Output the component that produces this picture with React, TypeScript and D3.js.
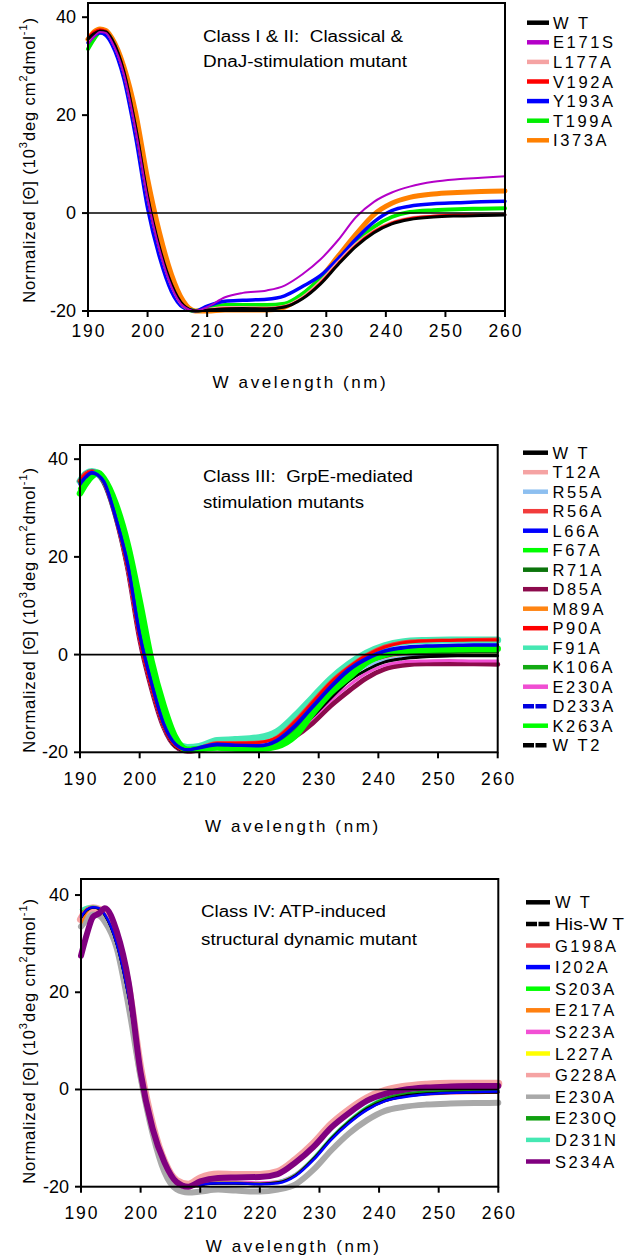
import React from 'react';
import * as d3 from 'd3';

// Wavelength grid (nm) shared by every spectrum
const WAVELENGTHS = [190, 191, 192, 193, 194, 196, 198, 200, 202, 204, 206, 208, 210, 213, 216, 220, 223, 226, 229, 232, 235, 238, 241, 244, 248, 252, 256, 260];
const X_TICKS = [190, 200, 210, 220, 230, 240, 250, 260];
const Y_TICKS = [-20, 0, 20, 40];

// ---- Class I & II ----
const C1_NAMES = ['W T', 'E171S', 'L177A', 'V192A', 'Y193A', 'T199A', 'I373A'];
const C1_WT = [35.5, 36.6, 37.2, 37.0, 35.5, 29, 17.5, 3.5, -7, -14.5, -18.8, -20, -19.8, -19.6, -19.5, -19.6, -19.2, -17.5, -14.5, -10.5, -6.8, -4, -2.2, -1.3, -0.8, -0.6, -0.5, -0.4];
const C1_E171S = [34.5, 36, 37, 36.8, 35, 28.5, 17, 3, -7.5, -15, -19, -20, -19.2, -17.2, -16.3, -15.8, -14.8, -12.5, -9.5, -5.5, -0.8, 2.3, 4.2, 5.4, 6.4, 6.9, 7.2, 7.5];
const C1_L177A = [35, 36.5, 37.3, 37, 35.3, 28.8, 17.2, 3.2, -7.2, -14.8, -19, -20, -19.7, -19.3, -19.3, -19.4, -19, -17.2, -14, -10, -6.3, -3.6, -1.9, -1.0, -0.6, -0.4, -0.3, -0.3];
const C1_V192A = [35.8, 37, 37.5, 37.2, 35.6, 29.2, 17.8, 3.6, -7, -14.5, -18.8, -20, -19.8, -19.5, -19.5, -19.5, -19.1, -17.4, -14.3, -10.3, -6.6, -3.8, -2, -1.1, -0.6, -0.4, -0.4, -0.3];
const C1_Y193A = [34.8, 36.2, 36.8, 36.3, 34.5, 27.5, 15.5, 1, -9, -16, -19.3, -20, -19, -18, -17.8, -17.6, -16.9, -15, -12.8, -9.3, -5.3, -1.8, 0.5, 1.4, 1.9, 2.1, 2.3, 2.4];
const C1_T199A = [33.5, 35.5, 36.8, 36.8, 35.3, 28.5, 17, 2.5, -8, -15.3, -19.2, -20, -19.5, -18.8, -18.8, -18.8, -18.5, -16.5, -13.4, -9.7, -6, -2.8, -0.8, 0.2, 0.6, 0.8, 0.9, 1.0];
const C1_I373A = [35.5, 37, 37.6, 37.3, 35.8, 30, 20.5, 7, -4, -12.5, -18, -20, -20, -19.8, -19.8, -19.8, -19.2, -16.8, -13.3, -8.8, -4.3, -0.3, 2, 3.2, 3.9, 4.2, 4.4, 4.5];

// ---- Class III ----
const C3_NAMES = ['W T', 'T12A', 'R55A', 'R56A', 'L66A', 'F67A', 'R71A', 'D85A', 'M89A', 'P90A', 'F91A', 'K106A', 'E230A', 'D233A', 'K263A', 'W T2'];
const C3_WT = [35.4, 36.9, 37.3, 36.9, 35.3, 28.2, 17.6, 3.3, -6.8, -14.7, -18.8, -19.7, -19.2, -18.7, -18.9, -19, -18.4, -16, -12.6, -8.9, -5.4, -3.2, -1.6, -0.9, -0.5, -0.3, -0.2, -0.2];
const C3_T12A = [35.5, 37, 37.3, 36.8, 35.2, 28.2, 17.7, 3.4, -6.7, -14.6, -18.7, -19.7, -19.2, -18.7, -18.8, -18.9, -18.1, -15.5, -11.7, -7.7, -4.4, -2, -0.7, -0.1, 0.2, 0.3, 0.3, 0.3];
const C3_R55A = [35.2, 36.8, 37.2, 36.8, 35.2, 28.1, 17.5, 3.3, -6.8, -14.7, -18.8, -19.7, -19.2, -18.7, -18.8, -18.9, -18.2, -15.7, -12, -8.1, -4.8, -2.4, -1.2, -0.6, -0.3, -0.2, -0.2, -0.2];
const C3_R56A = [35.8, 37.2, 37.6, 37, 35.4, 28.3, 18, 3.5, -6.5, -14.5, -18.6, -19.6, -19, -18, -18, -17.9, -16.8, -13.5, -9.5, -5.5, -2.5, 0, 1.7, 2.6, 2.9, 3.0, 3.1, 3.2];
const C3_L66A = [35, 36.5, 37.3, 36.8, 35.5, 28, 18.6, 4.3, -5.8, -14, -18.3, -19.5, -19, -18.3, -18.5, -18.6, -17.5, -14.5, -10.5, -6.5, -3, -0.7, 0.8, 1.5, 1.8, 1.9, 2.0, 2.0];
const C3_F67A = [34, 35.8, 37, 37.2, 35.8, 29.5, 20, 7, -4, -12.5, -17.5, -19.4, -19.2, -18.7, -18.9, -19, -18.4, -16, -12, -7.8, -4.3, -1.5, 0.1, 0.8, 1.1, 1.2, 1.2, 1.3];
const C3_R71A = [35.5, 37, 37.4, 37, 35.4, 28.3, 17.8, 3.5, -6.7, -14.5, -18.6, -19.7, -19.2, -18.6, -18.7, -18.8, -18, -15.3, -11.5, -7.5, -4.2, -1.8, -0.5, 0.1, 0.3, 0.4, 0.5, 0.5];
const C3_D85A = [35.5, 37, 37.4, 37, 35.3, 28.2, 17.6, 3.2, -7, -14.8, -18.8, -19.8, -19.5, -19, -19.2, -19.3, -18.8, -16.8, -14, -10.5, -7.5, -4.8, -3, -2.2, -1.9, -1.9, -1.9, -2.0];
const C3_M89A = [35.5, 37, 37.4, 37, 35.4, 28.3, 17.9, 3.5, -6.6, -14.5, -18.6, -19.6, -19.1, -18.5, -18.6, -18.7, -17.8, -15, -11, -7, -3.8, -1.4, 0, 0.6, 0.8, 0.8, 0.8, 0.8];
const C3_P90A = [35.5, 37, 37.5, 37, 35.3, 28, 17.6, 3.2, -6.8, -14.6, -18.7, -19.7, -19.2, -18.2, -18.2, -18, -17, -13.8, -9.8, -5.8, -2.7, -0.2, 1.5, 2.4, 2.8, 2.9, 3.0, 3.0];
const C3_F91A = [35.5, 37, 37.5, 37, 35.6, 29, 19, 6, -4.5, -13, -17.8, -19, -18.8, -17.6, -17.4, -17, -15.8, -12.6, -8.8, -5, -2, 0.3, 1.8, 2.6, 2.9, 3.0, 3.0, 3.0];
const C3_K106A = [35.3, 36.8, 37.3, 36.9, 35.3, 28.4, 18, 3.8, -6.4, -14.4, -18.6, -19.6, -19.1, -18.6, -18.7, -18.8, -17.9, -15.1, -11.2, -7.2, -3.9, -1.5, -0.1, 0.6, 0.9, 1.0, 1.0, 1.0];
const C3_E230A = [35.3, 36.8, 37.2, 36.8, 35.2, 28.1, 17.5, 3.2, -6.9, -14.8, -18.8, -19.8, -19.3, -18.8, -19, -19.1, -18.5, -16.3, -13, -9.5, -6.4, -3.8, -2.2, -1.5, -1.3, -1.2, -1.3, -1.3];
const C3_D233A = [34.8, 36.3, 37.1, 36.7, 35.3, 28, 18.3, 4, -6, -14.2, -18.4, -19.5, -19.1, -18.5, -18.6, -18.7, -17.7, -14.8, -10.8, -6.8, -3.3, -1, 0.6, 1.3, 1.7, 1.8, 1.9, 1.9];
const C3_K263A = [33, 35, 36.5, 37.2, 36, 30.8, 22.5, 11, -1.4, -10.4, -17, -19.5, -19.3, -19, -19.2, -19.3, -18.8, -16.7, -12, -7.8, -4.7, -1.6, 0, 0.7, 1.0, 1.1, 1.2, 1.2];
const C3_WT2 = [35.3, 36.8, 37.2, 36.8, 35.2, 28.1, 17.5, 3.2, -6.9, -14.8, -18.9, -19.8, -19.3, -18.8, -19, -19.1, -18.5, -16.1, -12.7, -9, -5.5, -3.1, -1.5, -0.8, -0.4, -0.3, -0.3, -0.3];

// ---- Class IV ----
const C4_NAMES = ['W T', 'His-W T', 'G198A', 'I202A', 'S203A', 'E217A', 'S223A', 'L227A', 'G228A', 'E230A', 'E230Q', 'D231N', 'S234A'];
const C4_WT = [35.5, 37, 37.5, 37.2, 35.8, 29.8, 18.8, 3.8, -7.6, -15, -19, -20, -19.6, -19.3, -19.3, -19.4, -19.1, -17.6, -14.2, -10, -6.6, -3.9, -2.2, -1.3, -0.8, -0.6, -0.6, -0.6];
const C4_HISWT = [35.2, 36.8, 37.4, 37.1, 35.8, 29.8, 18.8, 3.8, -7.6, -15.1, -19.1, -20.1, -19.7, -19.4, -19.4, -19.5, -19.2, -17.7, -14.4, -10.2, -6.8, -4.1, -2.4, -1.5, -1.0, -0.7, -0.6, -0.6];
const C4_G198A = [35.8, 37.2, 37.6, 37.3, 36, 30, 19, 4, -7.5, -15, -19, -20, -19.5, -19.2, -19.2, -19.4, -19.1, -17.6, -14.3, -10.2, -6.8, -4.1, -2.4, -1.5, -1, -0.8, -0.7, -0.6];
const C4_I202A = [35.5, 37, 37.5, 37.3, 36, 30, 19, 4, -7.5, -15, -19, -20, -19.6, -19.3, -19.3, -19.5, -19.3, -17.8, -14.5, -10.3, -6.9, -4.2, -2.4, -1.6, -1.0, -0.7, -0.5, -0.4];
const C4_S203A = [36.5, 37.5, 37.6, 37.2, 35.9, 30, 19, 4, -7.5, -15, -19, -20, -19.6, -19.2, -19.2, -19.4, -19.1, -17.5, -14.1, -9.9, -6.5, -3.8, -2, -1.1, -0.5, -0.3, -0.2, -0.2];
const C4_E217A = [34, 36.5, 37.5, 37.3, 36, 30, 19, 4, -7.5, -15, -19, -20, -19.6, -19.3, -19.3, -19.5, -19.2, -17.7, -14.4, -10.2, -6.8, -4.1, -2.3, -1.4, -0.8, -0.5, -0.4, -0.4];
const C4_S223A = [35, 37, 37.6, 37.3, 36, 30, 19, 4, -7.5, -15, -19, -20, -19.2, -18.8, -18.9, -19.1, -18.8, -17.3, -14, -9.8, -6.4, -3.7, -2, -1.1, -0.6, -0.4, -0.3, -0.3];
const C4_L227A = [36, 37.3, 37.6, 37.3, 36, 30, 19, 4, -7.5, -15, -19, -20, -19.5, -19.2, -19.2, -19.4, -19.1, -17.6, -14.3, -10.1, -6.7, -4, -2.2, -1.3, -0.8, -0.5, -0.4, -0.4];
const C4_G228A = [35, 36.8, 37.3, 37, 36, 31, 20.5, 4, -7.5, -15, -18.8, -19.6, -18.3, -17.5, -17.6, -17.6, -17, -14.5, -11.2, -7.2, -4.2, -1.8, -0.3, 0.5, 1.0, 1.2, 1.2, 1.2];
const C4_E230A = [33.5, 35, 36, 35.8, 34.5, 29, 17, 2.5, -9, -17, -20.5, -21.2, -21, -20.6, -20.8, -21, -20.6, -19.5, -16.5, -12.5, -9, -6.3, -4.4, -3.6, -3.1, -2.9, -2.8, -2.75];
const C4_E230Q = [35.5, 37, 37.5, 37.2, 35.9, 30, 19, 4, -7.5, -15, -19, -20, -19.5, -19.2, -19.2, -19.4, -19.1, -17.5, -14.1, -9.9, -6.4, -3.6, -1.8, -0.9, -0.4, -0.3, -0.3, -0.3];
const C4_D231N = [37, 37.6, 37.7, 37.3, 36, 30, 19, 4, -7.5, -15, -19, -20, -19.5, -19.2, -19.2, -19.4, -19, -17.4, -14, -9.8, -6.3, -3.5, -1.7, -0.8, -0.3, -0.2, -0.2, -0.2];
const C4_S234A = [27.5, 32, 35.5, 36.2, 37.3, 32.5, 22, 3.5, -8, -15, -19, -20, -18.9, -18.2, -18.1, -18, -17.4, -15, -11.8, -7.8, -4.8, -2.3, -0.9, -0.1, 0.4, 0.6, 0.7, 0.7];

type Series = { name: string; values: number[]; color: string; width: number; legendDash?: string };

const panel1Series: Series[] = [
  { name: C1_NAMES[0], values: C1_WT, color: '#000000', width: 3 },
  { name: C1_NAMES[1], values: C1_E171S, color: '#b400c8', width: 2 },
  { name: C1_NAMES[2], values: C1_L177A, color: '#f5a3a3', width: 3 },
  { name: C1_NAMES[3], values: C1_V192A, color: '#ff0000', width: 2.5 },
  { name: C1_NAMES[4], values: C1_Y193A, color: '#0000ff', width: 3.5 },
  { name: C1_NAMES[5], values: C1_T199A, color: '#00ee00', width: 4 },
  { name: C1_NAMES[6], values: C1_I373A, color: '#ff8000', width: 5 },
];
const panel1Order = [6, 5, 4, 2, 3, 0, 1];

const panel2Series: Series[] = [
  { name: C3_NAMES[0], values: C3_WT, color: '#000000', width: 2.5 },
  { name: C3_NAMES[1], values: C3_T12A, color: '#f5a3a3', width: 3 },
  { name: C3_NAMES[2], values: C3_R55A, color: '#8dbff0', width: 3 },
  { name: C3_NAMES[3], values: C3_R56A, color: '#f23c3c', width: 3 },
  { name: C3_NAMES[4], values: C3_L66A, color: '#0000ff', width: 3 },
  { name: C3_NAMES[5], values: C3_F67A, color: '#00ff00', width: 4 },
  { name: C3_NAMES[6], values: C3_R71A, color: '#0b740b', width: 2.5 },
  { name: C3_NAMES[7], values: C3_D85A, color: '#8c0a4c', width: 5 },
  { name: C3_NAMES[8], values: C3_M89A, color: '#ff8412', width: 3 },
  { name: C3_NAMES[9], values: C3_P90A, color: '#ff0000', width: 3 },
  { name: C3_NAMES[10], values: C3_F91A, color: '#45e8b3', width: 7 },
  { name: C3_NAMES[11], values: C3_K106A, color: '#12aa12', width: 3 },
  { name: C3_NAMES[12], values: C3_E230A, color: '#f04ed2', width: 3 },
  { name: C3_NAMES[13], values: C3_D233A, color: '#0000e0', width: 3, legendDash: '11 1.5' },
  { name: C3_NAMES[14], values: C3_K263A, color: '#00ff00', width: 6.5 },
  { name: C3_NAMES[15], values: C3_WT2, color: '#000000', width: 2.5, legendDash: '11 1.5' },
];
const panel2Order = [10, 7, 1, 2, 12, 8, 6, 11, 0, 15, 3, 9, 5, 14, 4, 13];

const panel3Series: Series[] = [
  { name: C4_NAMES[0], values: C4_WT, color: '#000000', width: 2 },
  { name: C4_NAMES[1], values: C4_HISWT, color: '#000000', width: 2, legendDash: '11 1.5' },
  { name: C4_NAMES[2], values: C4_G198A, color: '#f24848', width: 2.5 },
  { name: C4_NAMES[3], values: C4_I202A, color: '#0000ff', width: 2.5 },
  { name: C4_NAMES[4], values: C4_S203A, color: '#00ff00', width: 2 },
  { name: C4_NAMES[5], values: C4_E217A, color: '#ff8010', width: 2 },
  { name: C4_NAMES[6], values: C4_S223A, color: '#f250d4', width: 2 },
  { name: C4_NAMES[7], values: C4_L227A, color: '#ffff00', width: 2 },
  { name: C4_NAMES[8], values: C4_G228A, color: '#f5a3a3', width: 8 },
  { name: C4_NAMES[9], values: C4_E230A, color: '#a9a9a9', width: 6 },
  { name: C4_NAMES[10], values: C4_E230Q, color: '#10a010', width: 2 },
  { name: C4_NAMES[11], values: C4_D231N, color: '#45e8b3', width: 2.5 },
  { name: C4_NAMES[12], values: C4_S234A, color: '#80007f', width: 6 },
];
const panel3Order = [8, 9, 7, 5, 6, 4, 11, 10, 2, 0, 1, 3, 12];

type Note = { text: string; x: number; y: number; len: number };
type PanelSpec = {
  series: Series[];
  order: number[];
  left: number; right: number; top: number; bottom: number; yMax: number;
  xLabelY: number; titleY: number; yLabelY: number;
  legend: { x1: number; x2: number; textX: number; y0: number; dy: number; spacing: number; maxLen: number };
  notes: Note[];
};

const FONT = "'Liberation Sans', Arial, sans-serif";

// rough width of a legend label, used to keep long labels inside the page
function approxWidth(s: string, size: number, spacing: number) {
  const w: Record<string, number> = { i: 0.222, '-': 0.333, ' ': 0.278, W: 0.944, H: 0.722, T: 0.611, s: 0.5 };
  let total = 0;
  for (const ch of s) total += (w[ch] ?? 0.62) * size + spacing;
  return total;
}

function Panel({ spec }: { spec: PanelSpec }) {
  const x = d3.scaleLinear().domain([190, 260]).range([spec.left, spec.right]);
  const y = d3.scaleLinear().domain([-20, spec.yMax]).range([spec.bottom, spec.top]);
  const line = d3
    .line<number>()
    .x((_, i) => x(WAVELENGTHS[i]))
    .y((d) => y(d))
    .curve(d3.curveMonotoneX);
  const cx = (spec.left + spec.right) / 2 + 4;
  const lg = spec.legend;
  return (
    <g>
      {spec.order.map((k) => {
        const s = spec.series[k];
        return (
          <path
            key={s.name + k}
            d={line(s.values) || ''}
            fill="none"
            stroke={s.color}
            strokeWidth={s.width}
            strokeLinejoin="round"
            strokeLinecap="round"
          />
        );
      })}
      {/* zero line */}
      <line x1={spec.left} x2={spec.right} y1={y(0)} y2={y(0)} stroke="#000" strokeWidth={1.6} />
      {/* frame */}
      <rect
        x={spec.left}
        y={spec.top}
        width={spec.right - spec.left}
        height={spec.bottom - spec.top}
        fill="none"
        stroke="#000"
        strokeWidth={2}
      />
      {X_TICKS.map((t) => (
        <g key={'xt' + t}>
          <line x1={x(t)} x2={x(t)} y1={spec.bottom} y2={spec.bottom + 6} stroke="#000" strokeWidth={2} />
          <text
            x={x(t) + 1}
            y={spec.xLabelY}
            textAnchor="middle"
            fontSize={17.5}
            fontFamily={FONT}
            style={{ letterSpacing: '2px' }}
          >
            {t}
          </text>
        </g>
      ))}
      {Y_TICKS.map((t) => (
        <g key={'yt' + t}>
          <line x1={spec.left - 6} x2={spec.left} y1={y(t)} y2={y(t)} stroke="#000" strokeWidth={2} />
          <text
            x={spec.left - 12}
            y={y(t)}
            textAnchor="end"
            dominantBaseline="central"
            fontSize={18}
            fontFamily={FONT}
          >
            {t}
          </text>
        </g>
      ))}
      <text
        x={cx}
        y={spec.titleY}
        textAnchor="middle"
        fontSize={17}
        fontFamily={FONT}
        style={{ letterSpacing: '2.6px' }}
      >
        W avelength (nm)
      </text>
      <text
        transform={`translate(29,${spec.yLabelY}) rotate(-90)`}
        textAnchor="middle"
        dominantBaseline="central"
        fontSize={16.5}
        fontFamily={FONT}
        style={{ letterSpacing: '0.9px' }}
      >
        Normalized [Θ] (10
        <tspan dy={-6} fontSize={11}>3</tspan>
        <tspan dy={6}>deg cm</tspan>
        <tspan dy={-6} fontSize={11}>2</tspan>
        <tspan dy={6}>dmol</tspan>
        <tspan dy={-6} fontSize={11}>-1</tspan>
        <tspan dy={6}>)</tspan>
      </text>
      {spec.notes.map((n) => (
        <text
          key={n.text}
          x={n.x}
          y={n.y}
          fontSize={16}
          fontFamily={FONT}
          textLength={n.len}
          lengthAdjust="spacingAndGlyphs"
          style={{ whiteSpace: 'pre' }}
        >
          {n.text}
        </text>
      ))}
      {spec.series.map((s, i) => {
        const ly = lg.y0 + i * lg.dy;
        const tooLong = approxWidth(s.name, 16.5, lg.spacing) > lg.maxLen;
        return (
          <g key={'lg' + i}>
            <line
              x1={lg.x1}
              x2={lg.x2}
              y1={ly}
              y2={ly}
              stroke={s.color}
              strokeWidth={4.5}
              strokeDasharray={s.legendDash}
            />
            <text
              x={lg.textX}
              y={ly}
              dominantBaseline="central"
              fontSize={16.5}
              fontFamily={FONT}
              textLength={tooLong ? lg.maxLen : undefined}
              lengthAdjust={tooLong ? 'spacingAndGlyphs' : undefined}
              style={{ letterSpacing: tooLong ? '0px' : `${lg.spacing}px` }}
            >
              {s.name}
            </text>
          </g>
        );
      })}
    </g>
  );
}

const PANELS: PanelSpec[] = [
  {
    series: panel1Series,
    order: panel1Order,
    left: 88, right: 505, top: 3, bottom: 311, yMax: 42.9,
    xLabelY: 337, titleY: 388, yLabelY: 160,
    legend: { x1: 527, x2: 549, textX: 553, y0: 22.7, dy: 19.6, spacing: 2.6, maxLen: 72 },
    notes: [
      { text: 'Class I & II:  Classical &', x: 203, y: 42, len: 200 },
      { text: 'DnaJ-stimulation mutant', x: 203, y: 67, len: 204 },
    ],
  },
  {
    series: panel2Series,
    order: panel2Order,
    left: 80, right: 497.7, top: 445, bottom: 752.3, yMax: 42.9,
    xLabelY: 785, titleY: 832, yLabelY: 610,
    legend: { x1: 523, x2: 548, textX: 552.5, y0: 452.7, dy: 19.5, spacing: 2.6, maxLen: 72 },
    notes: [
      { text: 'Class III:  GrpE-mediated', x: 203, y: 482, len: 210 },
      { text: 'stimulation mutants', x: 203, y: 508, len: 161 },
    ],
  },
  {
    series: panel3Series,
    order: panel3Order,
    left: 81, right: 498.3, top: 879, bottom: 1186.7, yMax: 43.3,
    xLabelY: 1219, titleY: 1252, yLabelY: 1041,
    legend: { x1: 526, x2: 550, textX: 555, y0: 902.3, dy: 21.6, spacing: 2.4, maxLen: 69 },
    notes: [
      { text: 'Class IV: ATP-induced', x: 201, y: 917, len: 185 },
      { text: 'structural dynamic mutant', x: 201, y: 945, len: 216 },
    ],
  },
];

export default function App() {
  return (
    <svg
      width={627}
      height={1260}
      viewBox="0 0 627 1260"
      style={{ position: 'absolute', left: 0, top: 0, background: '#fff' }}
    >
      <rect x={0} y={0} width={627} height={1260} fill="#fff" />
      {PANELS.map((p, i) => (
        <Panel key={i} spec={p} />
      ))}
    </svg>
  );
}
